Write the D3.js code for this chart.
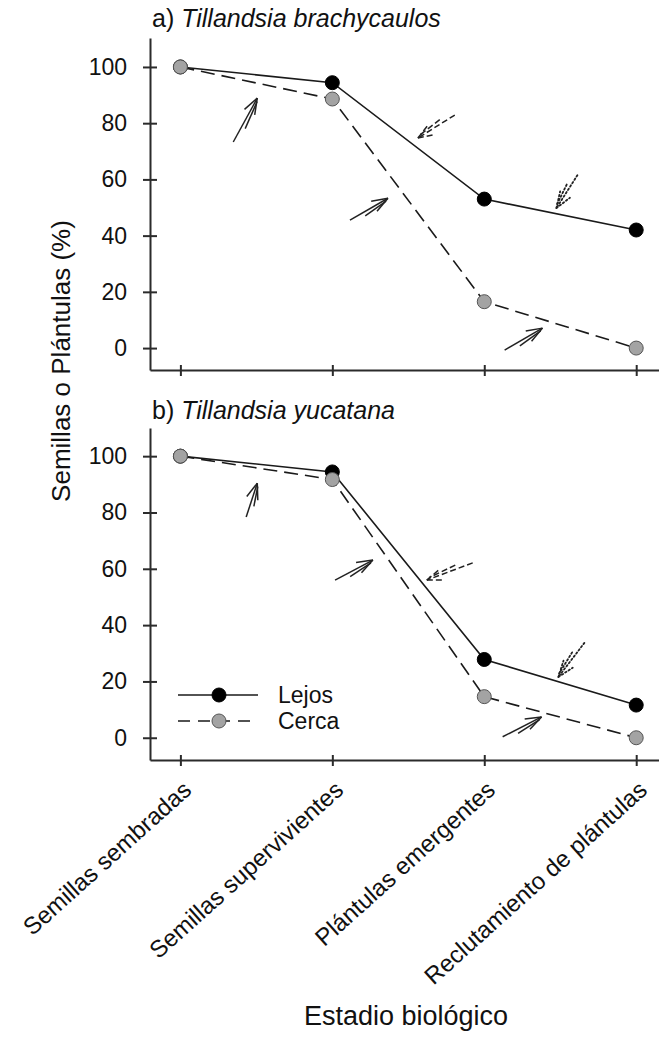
<!DOCTYPE html>
<html>
<head>
<meta charset="utf-8">
<script src="https://cdn.jsdelivr.net/npm/d3@7"></script>
<style>
  html, body { margin: 0; padding: 0; background: #fff; }
  svg { display: block; font-family: "Liberation Sans", Arial, sans-serif; }
</style>
</head>
<body>
<svg id="chart" width="659" height="1040"></svg>
<script>
// Life-cycle stages on the shared x axis
const stages = ["Semillas sembradas", "Semillas supervivientes", "Plántulas emergentes", "Reclutamiento de plántulas"];
const yTicks = [0, 20, 40, 60, 80, 100];
const seriesNames = ["Lejos", "Cerca"];

// a) Tillandsia brachycaulos (%)
const brachyLejos = [100, 94.4, 53, 42];
const brachyCerca = [100, 88.6, 16.5, 0];
// b) Tillandsia yucatana (%)
const yucaLejos = [100, 94.4, 27.8, 11.6];
const yucaCerca = [100, 91.7, 14.6, 0];

// Transition arrows: [tailStage, tailPct, tipStage, tipPct, style]
const brachyArrows = [
  [0.348, 73.3, 0.506, 88.9, "solid"],
  [1.806, 82.9, 1.563, 74.7, "dashed"],
  [2.613, 61.5, 2.475, 49.8, "dotted"],
  [1.116, 45.5, 1.366, 53.3, "solid"],
  [2.134, -0.7, 2.383, 7.1, "solid"]
];
const yucaArrows = [
  [0.433, 78.4, 0.506, 90.4, "solid"],
  [1.018, 56.0, 1.267, 63.1, "solid"],
  [1.924, 62.1, 1.622, 56.0, "dashed"],
  [2.659, 33.7, 2.488, 21.6, "dotted"],
  [2.121, 0.35, 2.377, 7.4, "solid"]
];

const svg = d3.select("#chart");
const axisColor = "#2b2b2b";

const x = d3.scaleLinear().domain([-0.2, 3.15]).range([150, 659]);

const panels = [
  { title: "a) ", species: "Tillandsia brachycaulos", lejos: brachyLejos, cerca: brachyCerca,
    arrows: brachyArrows, top: 38, bottom: 370, domain: [-7.8, 110.3], titleY: 27, legend: false },
  { title: "b) ", species: "Tillandsia yucatana", lejos: yucaLejos, cerca: yucaCerca,
    arrows: yucaArrows, top: 428, bottom: 760, domain: [-7.9, 110], titleY: 419, legend: true }
];

const dashStyles = { solid: null, dashed: "6,3", dotted: "1.6,2.4" };

function drawArrow(g, x1, y1, x2, y2, style) {
  const dx = x2 - x1, dy = y2 - y1;
  const len = Math.hypot(dx, dy);
  const ux = dx / len, uy = dy / len;
  const nx = -uy, ny = ux;
  const barbLen = 17, ang = 20 * Math.PI / 180;
  const segs = [];
  segs.push([x1, y1, x2, y2]);
  // second, shorter parallel shaft
  segs.push([x1 + ux * len * 0.35 + nx * 4, y1 + uy * len * 0.35 + ny * 4,
             x2 - ux * 3 + nx * 1.5, y2 - uy * 3 + ny * 1.5]);
  for (const s of [-1, 1]) {
    const c = Math.cos(ang), sn = Math.sin(ang) * s;
    const bx = -(ux * c - uy * sn), by = -(uy * c + ux * sn);
    segs.push([x2, y2, x2 + bx * barbLen, y2 + by * barbLen]);
  }
  g.selectAll(null).data(segs).enter().append("line")
    .attr("x1", d => d[0]).attr("y1", d => d[1])
    .attr("x2", d => d[2]).attr("y2", d => d[3])
    .attr("stroke", "#222")
    .attr("stroke-width", style === "dotted" ? 1.8 : 1.5)
    .attr("stroke-linecap", style === "dotted" ? "round" : "butt")
    .attr("stroke-dasharray", dashStyles[style]);
}

panels.forEach((p, pi) => {
  const y = d3.scaleLinear().domain(p.domain).range([p.bottom, p.top]);
  const g = svg.append("g");

  // panel title
  const t = g.append("text").attr("x", 152).attr("y", p.titleY)
    .attr("font-size", 25).attr("fill", "#111");
  t.append("tspan").text(p.title);
  t.append("tspan").attr("font-style", "italic").text(p.species);

  // y axis
  const yAxis = d3.axisLeft(y).tickValues(yTicks).tickSizeInner(7).tickSizeOuter(0).tickPadding(16);
  const ya = g.append("g").attr("transform", "translate(150,0)").call(yAxis);
  ya.select(".domain").attr("stroke", axisColor).attr("stroke-width", 2);
  ya.selectAll(".tick line").attr("stroke", axisColor).attr("stroke-width", 2).attr("x2", 7).attr("x1", -7);
  ya.selectAll(".tick text").attr("font-size", 23).attr("fill", "#111")
    .attr("font-family", "Liberation Sans, Arial, sans-serif");

  // x axis
  const xAxis = d3.axisBottom(x).tickValues(d3.range(stages.length)).tickSizeInner(6).tickSizeOuter(0)
    .tickFormat(i => stages[i]);
  const xa = g.append("g").attr("transform", `translate(0,${p.bottom})`).call(xAxis);
  xa.select(".domain").attr("stroke", axisColor).attr("stroke-width", 2);
  xa.selectAll(".tick line").attr("stroke", axisColor).attr("stroke-width", 2).attr("y1", -5).attr("y2", 6);
  if (pi === 0) {
    xa.selectAll(".tick text").remove();
  } else {
    xa.selectAll(".tick text")
      .attr("font-size", 24).attr("fill", "#111")
      .attr("font-family", "Liberation Sans, Arial, sans-serif")
      .attr("text-anchor", "end")
      .attr("dy", 0).attr("y", 0)
      .attr("transform", "translate(12,32) rotate(-42)");
  }

  // arrows
  const ag = g.append("g");
  p.arrows.forEach(a => drawArrow(ag, x(a[0]), y(a[1]), x(a[2]), y(a[3]), a[4]));

  const line = d3.line().x((d, i) => x(i)).y(d => y(d));

  // Lejos: solid line, black markers
  g.append("path").datum(p.lejos).attr("d", line)
    .attr("fill", "none").attr("stroke", "#1a1a1a").attr("stroke-width", 1.6);
  // Cerca: dashed line, grey markers
  g.append("path").datum(p.cerca).attr("d", line)
    .attr("fill", "none").attr("stroke", "#1a1a1a").attr("stroke-width", 1.6)
    .attr("stroke-dasharray", "14,7");

  g.selectAll(null).data(p.lejos).enter().append("circle")
    .attr("cx", (d, i) => x(i)).attr("cy", d => y(d)).attr("r", 7)
    .attr("fill", "#000").attr("stroke", "#000").attr("stroke-width", 1);
  g.selectAll(null).data(p.cerca).enter().append("circle")
    .attr("cx", (d, i) => x(i)).attr("cy", d => y(d)).attr("r", 7)
    .attr("fill", "#a3a3a3").attr("stroke", "#555").attr("stroke-width", 1);

  // legend
  if (p.legend) {
    const lg = g.append("g");
    const rows = [
      { name: seriesNames[0], y: 695, dash: null, fill: "#000", stroke: "#000" },
      { name: seriesNames[1], y: 721, dash: "12,8", fill: "#a3a3a3", stroke: "#555" }
    ];
    rows.forEach(r => {
      lg.append("line").attr("x1", 178).attr("x2", 258).attr("y1", r.y).attr("y2", r.y)
        .attr("stroke", "#1a1a1a").attr("stroke-width", 1.6)
        .attr("stroke-dasharray", r.dash);
      lg.append("circle").attr("cx", 219).attr("cy", r.y).attr("r", 7)
        .attr("fill", r.fill).attr("stroke", r.stroke);
      lg.append("text").attr("x", 278).attr("y", r.y + 8).attr("font-size", 23)
        .attr("fill", "#111").text(r.name);
    });
  }
});

// axis titles
svg.append("text").attr("transform", "translate(70,361) rotate(-90)")
  .attr("text-anchor", "middle").attr("font-size", 26).attr("fill", "#111")
  .text("Semillas o Plántulas (%)");
svg.append("text").attr("x", 406).attr("y", 1025)
  .attr("text-anchor", "middle").attr("font-size", 27).attr("fill", "#111")
  .text("Estadio biológico");
</script>
</body>
</html>
